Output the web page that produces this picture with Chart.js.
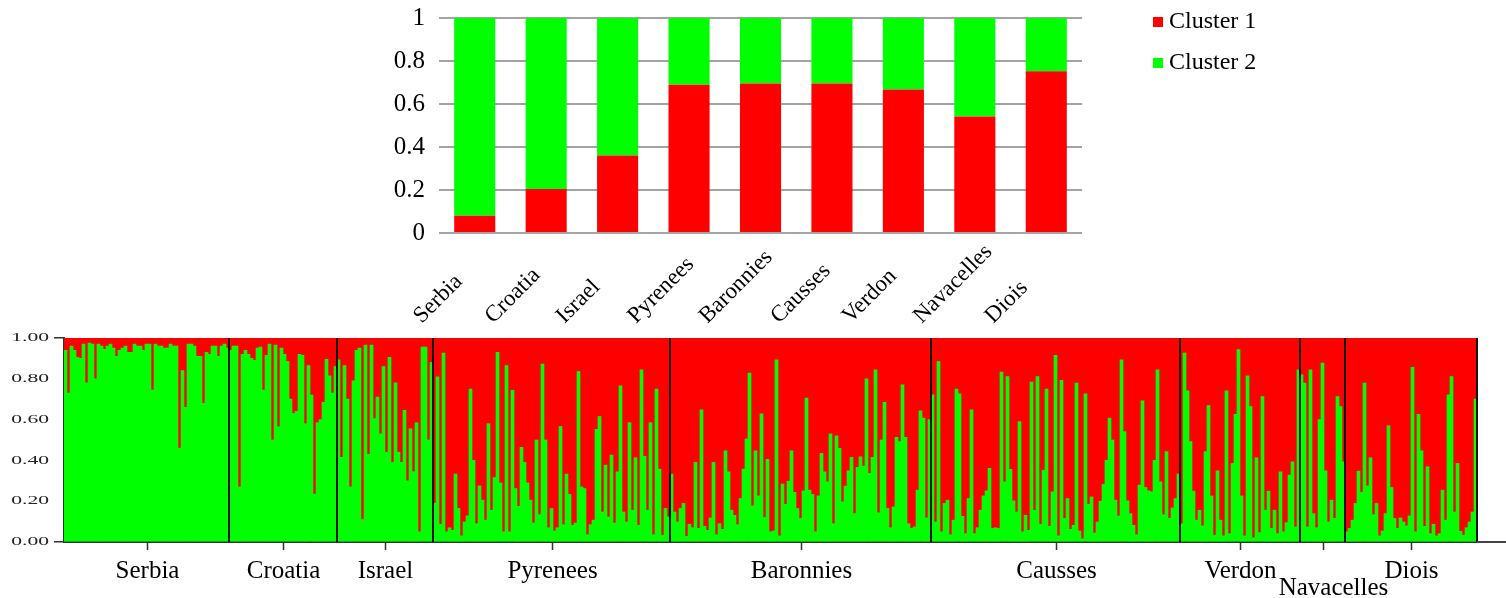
<!DOCTYPE html>
<html>
<head>
<meta charset="utf-8">
<script src="https://cdn.jsdelivr.net/npm/chart.js@4.4.1/dist/chart.umd.min.js"></script>
<style>
  html, body { margin: 0; padding: 0; background: #ffffff; }
  #wrap { position: relative; width: 1506px; height: 598px; overflow: hidden; background: #ffffff; }
  #summary { position: absolute; left: 0; top: 0; }
  #structure { position: absolute; left: 0; top: 320px; }
</style>
</head>
<body>
<div id="wrap">
  <canvas id="summary" width="1506" height="335"></canvas>
  <canvas id="structure" width="1506" height="278"></canvas>
</div>
<script>
// Populations, in plotting order
const populations = ['Serbia', 'Croatia', 'Israel', 'Pyrenees', 'Baronnies', 'Causses', 'Verdon', 'Navacelles', 'Diois'];
const clusterNames = ['Cluster 1', 'Cluster 2'];

// Mean membership per population
const meanCluster1 = [0.08, 0.205, 0.36, 0.69, 0.695, 0.695, 0.667, 0.542, 0.752];
const meanCluster2 = [0.92, 0.795, 0.64, 0.31, 0.305, 0.305, 0.333, 0.458, 0.248];

// Individual membership in cluster 2, one array per population
const serbiaQ = [0.94, 0.73, 0.96, 0.94, 0.905, 0.90, 0.97, 0.78, 0.975, 0.97,
  0.80, 0.97, 0.96, 0.945, 0.96, 0.97, 0.95, 0.91, 0.94, 0.95,
  0.96, 0.93, 0.93, 0.97, 0.96, 0.96, 0.94, 0.97, 0.97, 0.745,
  0.97, 0.96, 0.96, 0.95, 0.95, 0.97, 0.96, 0.96, 0.46, 0.84,
  0.66, 0.97, 0.97, 0.96, 0.91, 0.91, 0.68, 0.93, 0.92, 0.96,
  0.96, 0.91, 0.96, 0.97, 0.95];
const croatiaQ = [0.94, 0.96, 0.96, 0.27, 0.92, 0.94, 0.92, 0.90, 0.89, 0.95,
  0.955, 0.745, 0.915, 0.97, 0.50, 0.965, 0.565, 0.95, 0.92, 0.885,
  0.70, 0.63, 0.64, 0.92, 0.915, 0.58, 0.865, 0.72, 0.235, 0.585,
  0.60, 0.685, 0.895, 0.815, 0.73, 0.86];
const israelQ = [0.893, 0.415, 0.865, 0.70, 0.27, 0.79, 0.94, 0.95, 0.11, 0.965,
  0.43, 0.965, 0.605, 0.71, 0.53, 0.86, 0.44, 0.905, 0.39, 0.78,
  0.44, 0.39, 0.645, 0.30, 0.555, 0.345, 0.585, 0.05, 0.955, 0.955,
  0.50, 0.88];
const pyreneesQ = [0.19, 0.81, 0.087, 0.926, 0.05, 0.07, 0.057, 0.333, 0.164, 0.03,
  0.098, 0.128, 0.75, 0.40,
  0.09, 0.275, 0.205, 0.107, 0.58, 0.156, 0.316, 0.93, 0.29, 0.05,
  0.865, 0.05, 0.743, 0.262, 0.175, 0.464, 0.39, 0.29, 0.205, 0.093,
  0.50, 0.134, 0.872, 0.50, 0.07, 0.164, 0.054, 0.07, 0.566, 0.085,
  0.333, 0.234, 0.082, 0.093, 0.836, 0.27, 0.262, 0.036, 0.085, 0.107,
  0.552, 0.615, 0.147, 0.377, 0.123, 0.426, 0.093, 0.344, 0.765, 0.147,
  0.098, 0.585, 0.156, 0.413, 0.082, 0.844, 0.42, 0.156, 0.585, 0.036,
  0.75, 0.357, 0.033, 0.164, 0.123];
const baronniesQ = [0.333, 0.147, 0.098, 0.164, 0.189, 0.028, 0.087, 0.07, 0.39, 0.066,
  0.648, 0.077, 0.057,
  0.118, 0.39, 0.036, 0.09, 0.062, 0.447, 0.344, 0.156, 0.131, 0.085,
  0.213, 0.357, 0.505, 0.828, 0.177, 0.447, 0.226, 0.628, 0.12, 0.405,
  0.05, 0.054, 0.893, 0.03, 0.284, 0.185, 0.298, 0.447, 0.243, 0.164,
  0.115, 0.251, 0.705, 0.254, 0.233, 0.05, 0.226, 0.434, 0.344, 0.295,
  0.53, 0.09, 0.52, 0.459, 0.197, 0.274, 0.349, 0.415, 0.139, 0.366,
  0.418, 0.372, 0.80, 0.336, 0.415, 0.844, 0.143, 0.50, 0.685, 0.164,
  0.07, 0.172, 0.513, 0.492, 0.77, 0.513, 0.09, 0.066, 0.074, 0.254,
  0.643, 0.607, 0.118, 0.60];
const caussesQ = [0.721, 0.098, 0.885,
  0.05, 0.189, 0.205, 0.036, 0.107, 0.75, 0.726, 0.126, 0.041, 0.213,
  0.648, 0.041, 0.07, 0.156, 0.226, 0.251, 0.361, 0.066, 0.07, 0.066,
  0.833, 0.295, 0.811, 0.356, 0.202, 0.147, 0.59, 0.05, 0.131, 0.057,
  0.784, 0.156, 0.811, 0.087, 0.352, 0.75, 0.077, 0.246, 0.915, 0.03,
  0.792, 0.115, 0.213, 0.062, 0.082, 0.779, 0.054, 0.016, 0.726, 0.185,
  0.221, 0.044, 0.098, 0.20, 0.282, 0.40, 0.607, 0.50, 0.205, 0.128,
  0.893, 0.541, 0.202, 0.139, 0.082, 0.036, 0.279, 0.692, 0.267, 0.251,
  0.246, 0.40, 0.844, 0.295, 0.134, 0.443, 0.115, 0.167, 0.213, 0.333];
const verdonQ = [0.09, 0.926, 0.741, 0.492, 0.249, 0.107, 0.156, 0.079, 0.443, 0.669,
  0.226, 0.033, 0.349, 0.107, 0.03, 0.741, 0.041, 0.385, 0.626, 0.943,
  0.226, 0.03, 0.815, 0.664, 0.021, 0.413, 0.046, 0.713, 0.156, 0.249,
  0.066, 0.156, 0.041, 0.344, 0.05, 0.095, 0.328, 0.393, 0.074, 0.844];
const navacellesQ = [0.82, 0.779, 0.074, 0.844, 0.139, 0.07, 0.60, 0.877, 0.349, 0.098,
  0.205, 0.115, 0.713, 0.664, 0.393];
const dioisQ = [0.05, 0.066, 0.107, 0.189, 0.347, 0.243, 0.779, 0.275, 0.413, 0.134,
  0.189, 0.03, 0.054, 0.139, 0.57, 0.267, 0.115, 0.066, 0.118, 0.098,
  0.079, 0.128, 0.856, 0.05, 0.626, 0.447, 0.077, 0.369, 0.041, 0.087,
  0.03, 0.041, 0.254, 0.107, 0.721, 0.811, 0.147, 0.385, 0.052, 0.033,
  0.07, 0.098, 0.147, 0.70];

// Population names set one line lower under the structure plot
const loweredNames = ['Navacelles'];

const RED = '#ff0000';
const GREEN = '#00ff00';
const FONT = '"Liberation Serif", "Times New Roman", serif';

// ---------- summary bar chart ----------
const summaryDecor = {
  id: 'summaryDecor',
  afterDraw(chart) {
    const { ctx, chartArea, scales } = chart;
    ctx.save();
    ctx.fillStyle = '#000';
    ctx.textAlign = 'left';
    ctx.textBaseline = 'alphabetic';
    // slanted category names
    ctx.font = '23px ' + FONT;
    chart.data.labels.forEach((lab, i) => {
      const x = scales.x.getPixelForValue(i);
      ctx.save();
      ctx.translate(x - 53, chartArea.bottom + 91);
      ctx.rotate(-Math.PI / 4);
      ctx.fillText(lab, 0, 0);
      ctx.restore();
    });
    // legend at the upper right
    ctx.font = '24px ' + FONT;
    const lx = chartArea.right + 71;
    chart.data.datasets.forEach((ds, i) => {
      const base = 28 + i * 41;
      ctx.fillStyle = ds.backgroundColor;
      ctx.fillRect(lx, base - 11, 10, 10);
      ctx.fillStyle = '#000';
      ctx.fillText(ds.label, lx + 16, base);
    });
    ctx.restore();
  }
};

new Chart(document.getElementById('summary'), {
  type: 'bar',
  data: {
    labels: populations,
    datasets: [
      { label: clusterNames[0], data: meanCluster1, backgroundColor: RED },
      { label: clusterNames[1], data: meanCluster2, backgroundColor: GREEN }
    ]
  },
  options: {
    responsive: false,
    animation: false,
    devicePixelRatio: 1,
    layout: { padding: { left: 379, right: 424, top: 18, bottom: 102 } },
    plugins: { legend: { display: false }, tooltip: { enabled: false } },
    datasets: { bar: { barPercentage: 0.575, categoryPercentage: 1, borderWidth: 0 } },
    scales: {
      x: { stacked: true, display: false },
      y: {
        stacked: true, min: 0, max: 1,
        ticks: {
          stepSize: 0.2, padding: 14, color: '#000', font: { family: FONT, size: 25 },
          callback: (v) => String(Math.round(v * 10) / 10)
        },
        grid: { color: '#a3a3a3', lineWidth: 2, drawTicks: false },
        border: { display: false },
        afterFit: (s) => { s.width = 60; s.paddingTop = 0; s.paddingBottom = 0; }
      }
    }
  },
  plugins: [summaryDecor]
});

// ---------- individual structure plot ----------
const groups = [serbiaQ, croatiaQ, israelQ, pyreneesQ, baronniesQ, caussesQ, verdonQ, navacellesQ, dioisQ];
const cluster2Q = groups.flat();
// memberships of each individual sum to one
const cluster1Q = cluster2Q.map(q => +(1 - q).toFixed(3));
const individuals = cluster2Q.map((_, i) => String(i + 1));

// population centres and boundaries on the individual index scale
const centres = [];
const bounds = [];
let acc = 0;
groups.forEach(g => {
  centres.push(acc + g.length / 2 - 0.5);
  acc += g.length;
  bounds.push(acc - 0.5);
});

const structureDecor = {
  id: 'structureDecor',
  afterDatasetsDraw(chart) {
    const { ctx, chartArea, scales } = chart;
    const x = scales.x;
    ctx.save();
    // population separators
    ctx.strokeStyle = '#111';
    ctx.lineWidth = 2;
    bounds.forEach(b => {
      const px = Math.round(x.getPixelForValue(b));
      ctx.beginPath();
      ctx.moveTo(px, chartArea.top);
      ctx.lineTo(px, chartArea.bottom);
      ctx.stroke();
    });
    ctx.restore();
  },
  afterDraw(chart) {
    const { ctx, chartArea, scales } = chart;
    const x = scales.x;
    const y = scales.y;
    ctx.save();
    // wide-set membership labels on the left axis
    ctx.fillStyle = '#222';
    ctx.font = '12px ' + FONT;
    ctx.textAlign = 'right';
    ctx.textBaseline = 'middle';
    y.ticks.forEach(t => {
      const py = y.getPixelForValue(t.value);
      ctx.save();
      ctx.translate(chartArea.left - 15, py);
      ctx.scale(1.8, 1);
      ctx.fillText(Number(t.value).toFixed(2), 0, 0);
      ctx.restore();
    });
    // baseline carried on to the right edge
    ctx.strokeStyle = '#444';
    ctx.lineWidth = 2;
    ctx.beginPath();
    ctx.moveTo(chartArea.right, chartArea.bottom);
    ctx.lineTo(chart.width, chartArea.bottom);
    ctx.stroke();
    // population ticks and names
    ctx.fillStyle = '#000';
    ctx.font = '25px ' + FONT;
    ctx.textAlign = 'center';
    ctx.textBaseline = 'alphabetic';
    ctx.strokeStyle = '#333';
    ctx.lineWidth = 1.5;
    centres.forEach((c, i) => {
      const px = Math.round(x.getPixelForValue(c)) + 0.5;
      ctx.beginPath();
      ctx.moveTo(px, chartArea.bottom);
      ctx.lineTo(px, chartArea.bottom + 8);
      ctx.stroke();
      const low = loweredNames.includes(populations[i]);
      ctx.fillText(populations[i], px + (low ? 10 : 0), chartArea.bottom + (low ? 53 : 36));
    });
    ctx.restore();
  }
};

new Chart(document.getElementById('structure'), {
  type: 'bar',
  data: {
    labels: individuals,
    datasets: [
      { label: clusterNames[1], data: cluster2Q, backgroundColor: GREEN },
      { label: clusterNames[0], data: cluster1Q, backgroundColor: RED }
    ]
  },
  options: {
    responsive: false,
    animation: false,
    devicePixelRatio: 1,
    layout: { padding: { left: 14, right: 29, top: 18, bottom: 0 } },
    plugins: { legend: { display: false }, tooltip: { enabled: false } },
    datasets: { bar: { barPercentage: 1, categoryPercentage: 1, borderWidth: 0 } },
    scales: {
      x: {
        type: 'category', stacked: true,
        ticks: { display: false },
        grid: { drawOnChartArea: false, drawTicks: false },
        border: { display: true, color: '#333', width: 2 },
        afterFit: (s) => { s.height = 56; }
      },
      y: {
        stacked: true, min: 0, max: 1,
        ticks: { stepSize: 0.2, display: false },
        grid: {
          drawOnChartArea: false, drawTicks: true, tickLength: 10, lineWidth: 1.5,
          // tick marks only at the two ends of the scale
          color: (c) => (c.tick && (c.tick.value === 0 || c.tick.value === 1)) ? '#333' : 'rgba(0,0,0,0)'
        },
        border: { display: true, color: '#333', width: 2 },
        afterFit: (s) => { s.width = 50; }
      }
    }
  },
  plugins: [structureDecor]
});
</script>
</body>
</html>
